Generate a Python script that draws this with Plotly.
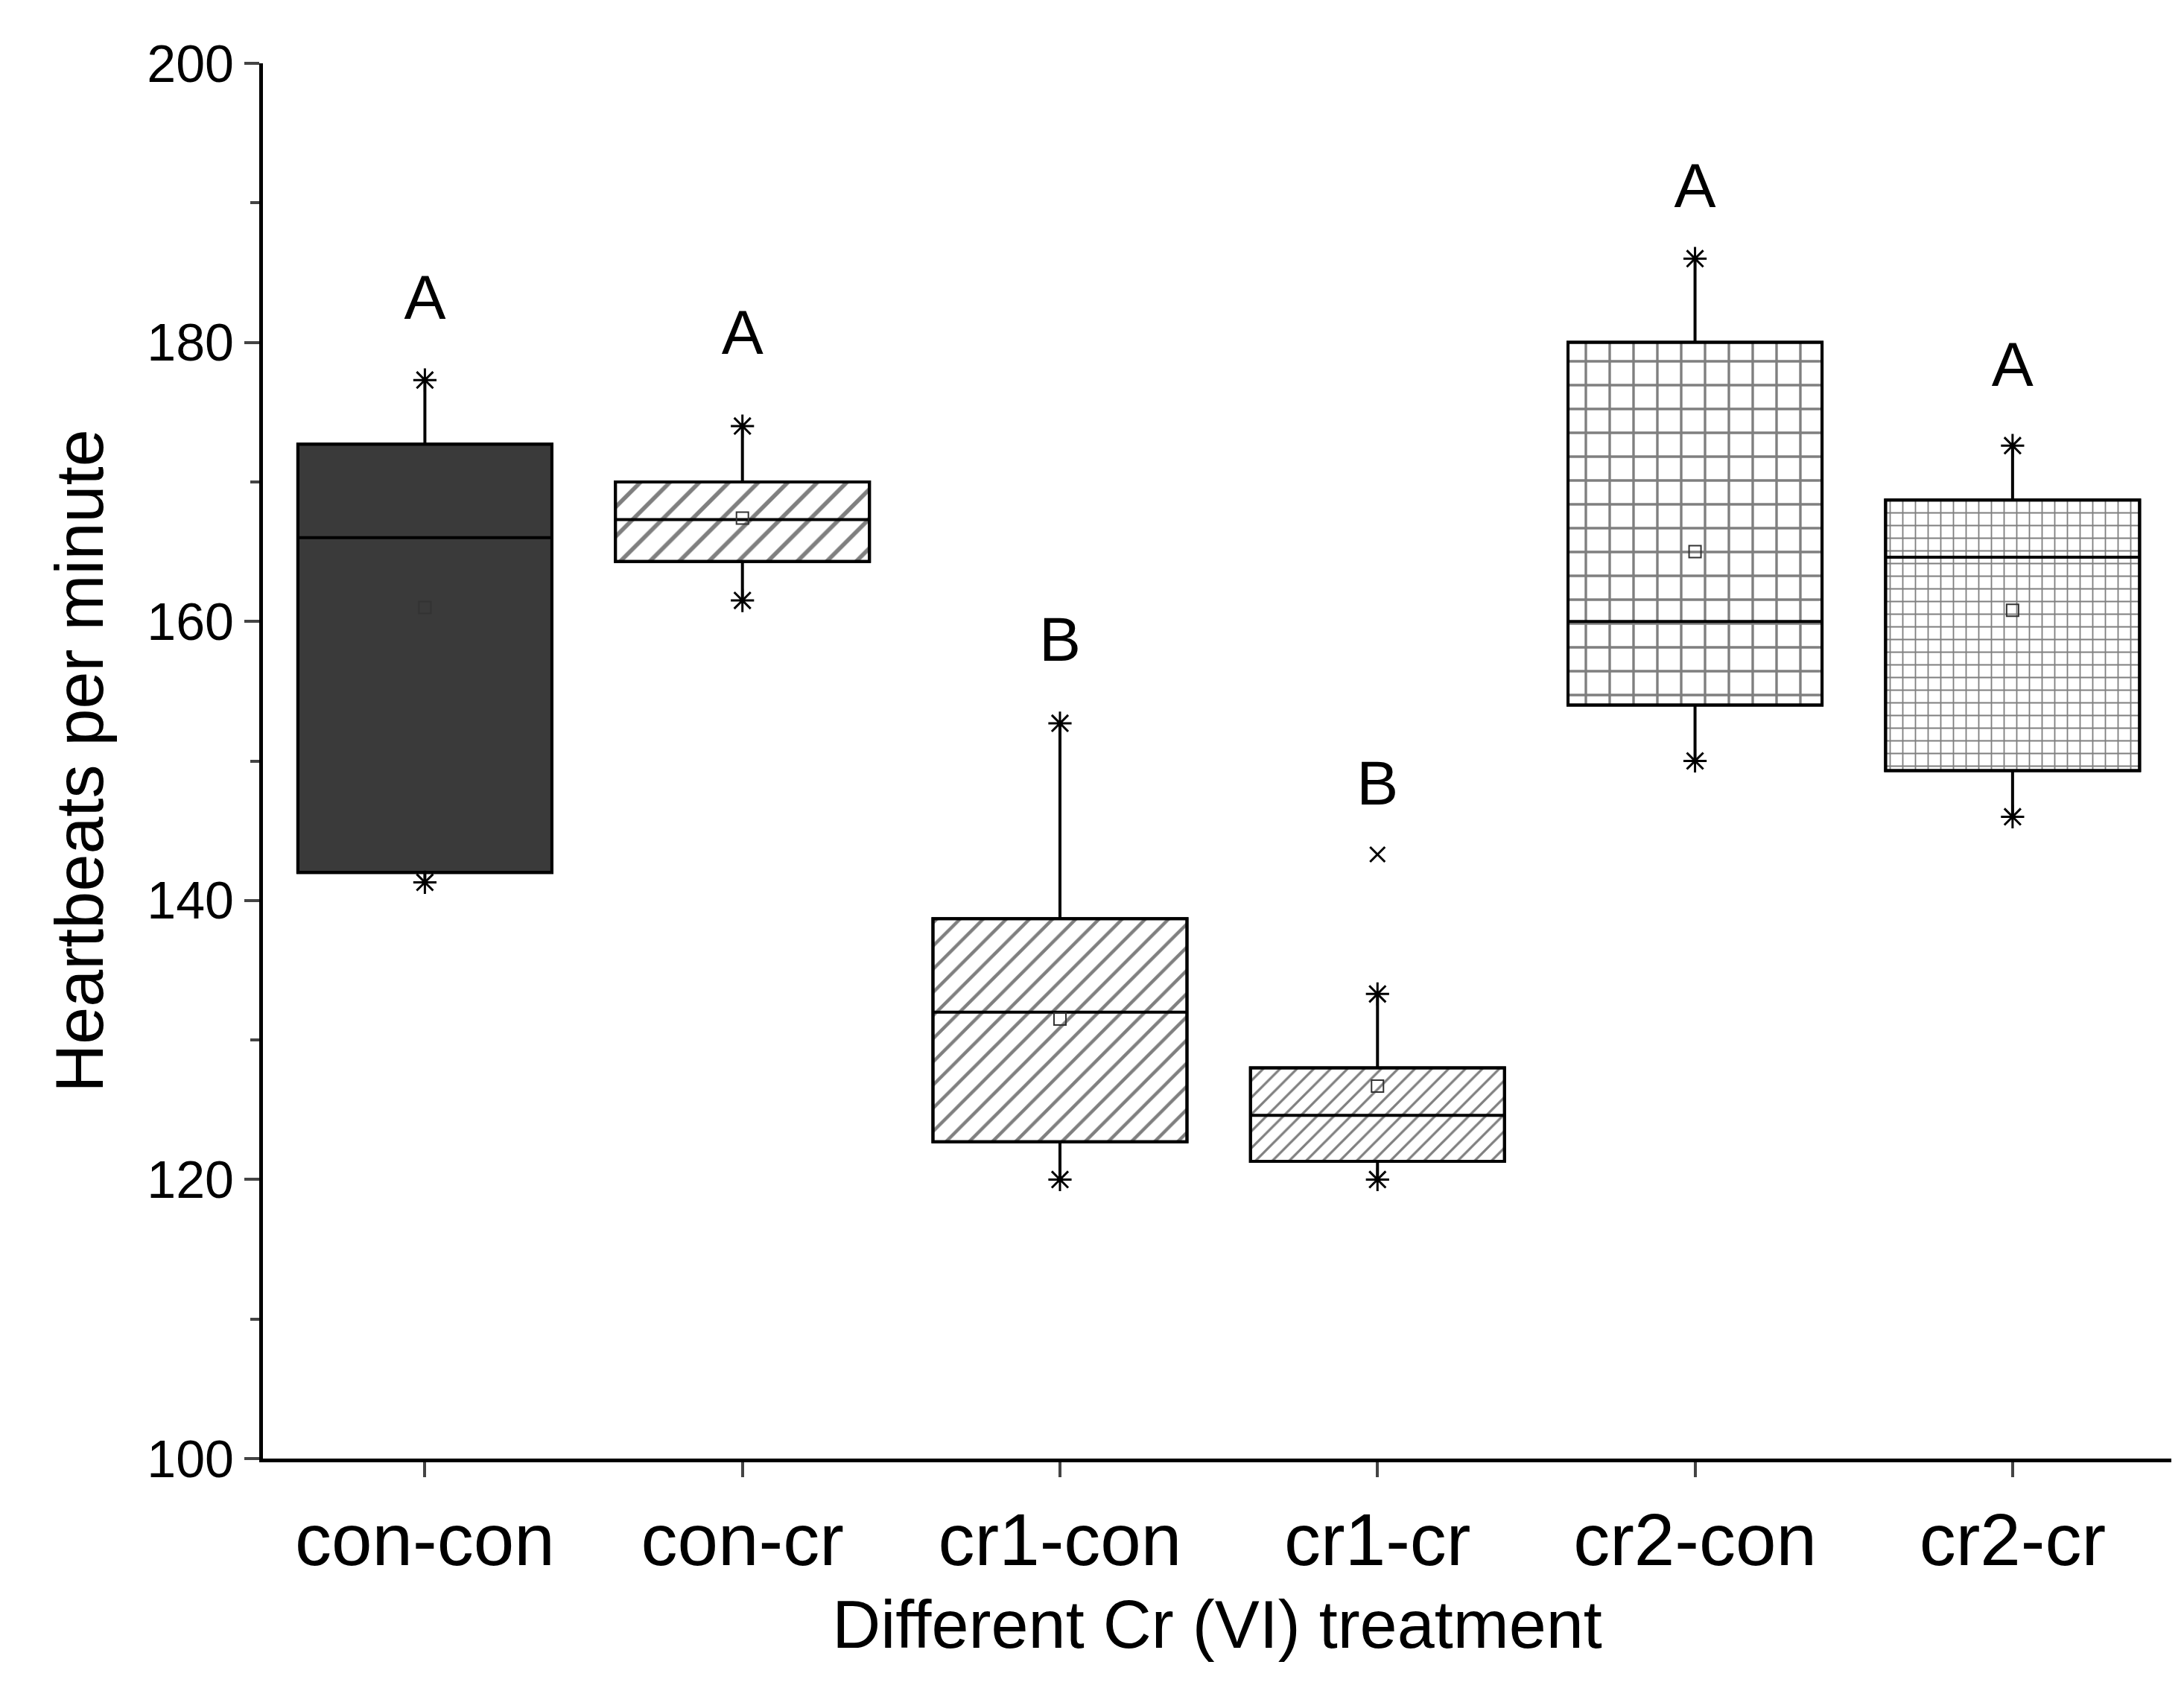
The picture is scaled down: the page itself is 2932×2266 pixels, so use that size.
import plotly.graph_objects as go

cats = ["con-con", "con-cr", "cr1-con", "cr1-cr", "cr2-con", "cr2-cr"]
q1 = [142.0, 164.3, 122.7, 121.3, 154.0, 149.3]
q3 = [172.7, 170.0, 138.7, 128.0, 180.0, 168.7]
med = [166.0, 167.3, 132.0, 124.6, 160.0, 164.6]
mean = [161.0, 167.4, 131.5, 126.7, 165.0, 160.8]
lo = [141.3, 161.5, 120.0, 120.0, 150.0, 146.0]
hi = [177.3, 174.0, 152.7, 133.3, 186.0, 172.6]
outlier_x = [3]
outlier_y = [143.3]
letters = ["A", "A", "B", "B", "A", "A"]
letter_y = [182.8, 180.3, 158.3, 148.0, 190.8, 178.0]

shapes = ["", "/", "/", "/", "+", "+"]
psize = [0, 28, 22, 16, 32, 17]
fills = ["#3a3a3a", "white", "white", "white", "white", "white"]

x = list(range(len(cats)))
fig = go.Figure()
for i in x:
    fig.add_trace(go.Bar(
        x=[i], y=[q3[i] - q1[i]], base=[q1[i]], width=0.8,
        marker=dict(color=fills[i], line=dict(color="black", width=4),
                    pattern=dict(shape=shapes[i], size=psize[i] or 10, solidity=0.2,
                                 fgcolor="black", bgcolor=fills[i])),
        showlegend=False))
fig.add_trace(go.Box(
    x=x, q1=q1, q3=q3, median=med, lowerfence=lo, upperfence=hi,
    width=0.8, fillcolor="rgba(0,0,0,0)", line=dict(color="black", width=4),
    whiskerwidth=0, showlegend=False, hoverinfo="skip"))
fig.add_trace(go.Scatter(x=x + x, y=lo + hi, mode="markers",
    marker=dict(symbol="asterisk-open", size=26, color="black", line=dict(width=3, color="black")),
    showlegend=False))
fig.add_trace(go.Scatter(x=x, y=mean, mode="markers",
    marker=dict(symbol="square-open", size=16, color="#333", line=dict(width=2)),
    showlegend=False))
fig.add_trace(go.Scatter(x=outlier_x, y=outlier_y, mode="markers",
    marker=dict(symbol="x-thin-open", size=20, color="black", line=dict(width=3, color="black")),
    showlegend=False))
fig.add_trace(go.Scatter(x=x, y=letter_y, mode="text", text=letters,
    textfont=dict(size=84, color="black", family="Arial, Liberation Sans"), showlegend=False))

fig.update_layout(
    width=2932, height=2266, plot_bgcolor="white", paper_bgcolor="white",
    margin=dict(l=345, r=25, t=77, b=316), barmode="overlay",
    font=dict(family="Arial, Liberation Sans", color="black"),
    xaxis=dict(range=[-0.51, 5.5], tickvals=x, ticktext=cats, showline=True, linecolor="black",
               linewidth=5, ticks="outside", ticklen=20, tickwidth=4, tickfont=dict(size=98),
               title=dict(text="Different Cr (VI) treatment", font=dict(size=90), standoff=30),
               showgrid=False, zeroline=False),
    yaxis=dict(range=[100, 200], tickvals=[100, 120, 140, 160, 180, 200], showline=True,
               linecolor="black", linewidth=5, ticks="outside", ticklen=20, tickwidth=4,
               tickfont=dict(size=70), minor=dict(dtick=10, ticks="outside", ticklen=12, tickwidth=4),
               title=dict(text="Heartbeats per minute", font=dict(size=90), standoff=30),
               showgrid=False, zeroline=False),
)
fig.write_html("out.html")
